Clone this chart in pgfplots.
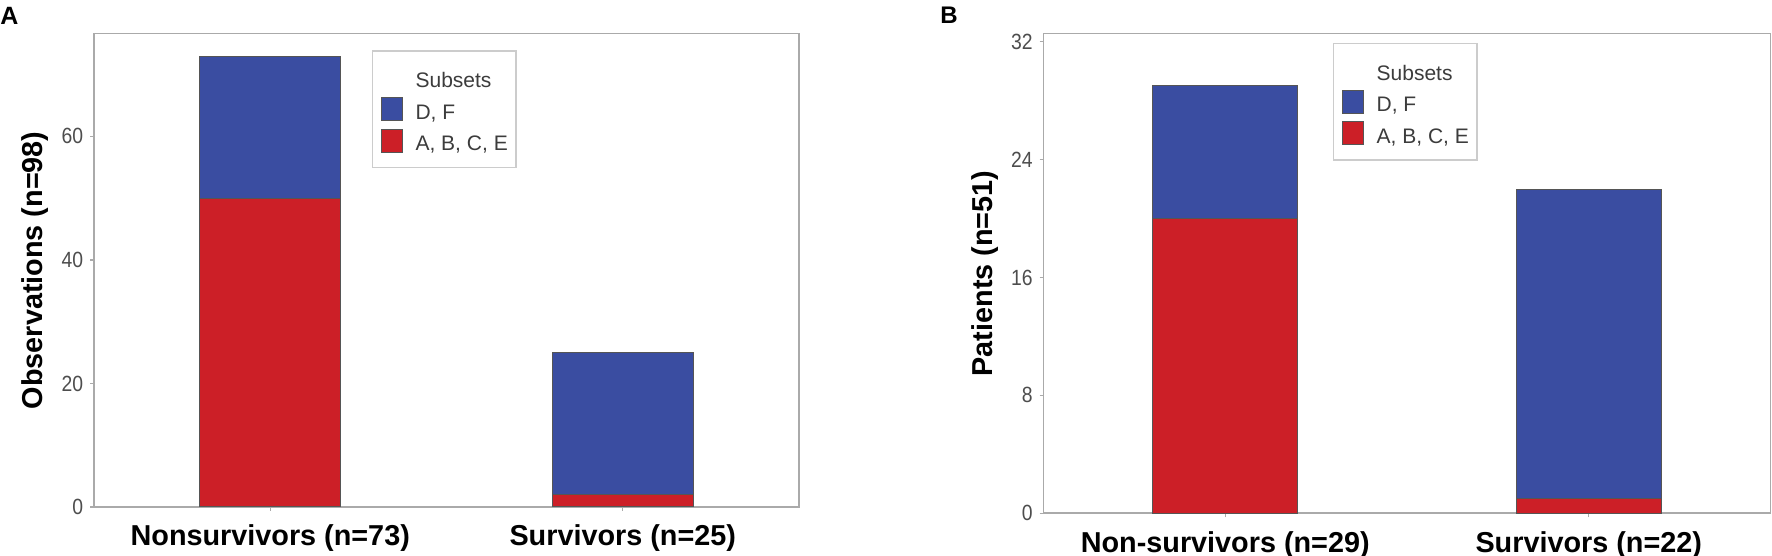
\documentclass[border=0pt]{standalone}
\usepackage{fontspec}
\setmainfont{Liberation Sans}
\newfontfamily\narrowfont[FakeStretch=0.88]{Liberation Sans}
\usepackage{pgfplots}
\pgfplotsset{compat=1.18}
\definecolor{barblue}{RGB}{58,77,161}
\definecolor{barred}{RGB}{204,31,39}
\definecolor{framegray}{RGB}{170,170,170}
\definecolor{leggray}{RGB}{204,204,204}
\definecolor{ticktext}{RGB}{77,77,77}
\definecolor{legtext}{RGB}{60,60,60}
\definecolor{bardraw}{RGB}{85,85,85}
\newcommand\keyimg[1]{\addlegendimage{legend image code/.code={\draw[fill=#1, draw=bardraw, line width=0.5pt] (0pt,-0.85pt) rectangle (10.5pt,10.65pt);}}}
\pgfplotsset{
  panel/.style={
    scale only axis,
    anchor=south west,
    xmin=-0.5, xmax=1.5, ymin=0,
    ybar stacked, bar width=0.4,
    xtick={0,1},
    tick pos=left, tick align=outside,
    major tick length=2pt,
    tick style={framegray, line width=0.6pt},
    axis line style={framegray, line width=0.8pt},
    /pgf/number format/assume math mode=true,
    yticklabel style={font=\narrowfont\fontsize{11}{13}\selectfont, text=ticktext, inner xsep=1.25pt, anchor=east, xshift=-2pt},
    xticklabel style={font=\fontsize{14.4}{17}\selectfont\bfseries, text=black, anchor=base, yshift=-17.5pt},
    ylabel style={font=\fontsize{14.4}{17}\selectfont\bfseries, anchor=center},
    legend cell align=left,
    legend style={draw=leggray, line width=0.8pt, anchor=north west,
      inner xsep=4pt, inner ysep=3.75pt,
      font=\fontsize{10.5}{12}\selectfont, text=legtext,
      nodes={inner xsep=0pt, inner ysep=2.25pt, text height=8.5pt, text depth=2.5pt},
      /tikz/column sep=6.5pt, cells={anchor=base west}},
  },
}
\begin{document}
\begin{tikzpicture}
\useasboundingbox (0pt,0pt) rectangle (886pt,278pt);
\node[font=\fontsize{12.5}{14}\selectfont\bfseries, anchor=base west, inner sep=0pt] at (0pt,265.5pt) {A};
\node[font=\fontsize{12}{14}\selectfont\bfseries, anchor=base west, inner sep=0pt] at (470pt,266pt) {B};

\begin{axis}[panel,
  at={(47pt,24.5pt)}, width=352.5pt, height=236.75pt,
  ymax=76.65, ytick={0,20,40,60},
  xticklabels={Nonsurvivors (n=73), Survivors (n=25)},
  ylabel={Observations (n=98)},
  ylabel style={at={(axis description cs:-0.0837,0.5)}},
  legend style={at={(axis description cs:0.394,0.965)}},
]
\addlegendimage{empty legend}
\addlegendentry[text height=12.5pt]{Subsets}
\keyimg{barblue}
\addlegendentry{D, F}
\keyimg{barred}
\addlegendentry{A, B, C, E\hspace{5.5pt}}
\addplot[fill=barred, draw=bardraw, line width=0.5pt] coordinates {(0,50) (1,2)};
\addplot[fill=barblue, draw=bardraw, line width=0.5pt] coordinates {(0,23) (1,23)};
\end{axis}

\begin{axis}[panel,
  at={(521.75pt,21.35pt)}, width=363.5pt, height=239.9pt,
  ymax=32.55, ytick={0,8,16,24,32},
  xticklabels={Non-survivors (n=29), Survivors (n=22)},
  ylabel={Patients (n=51)},
  ylabel style={at={(axis description cs:-0.0805,0.5)}},
  legend style={at={(axis description cs:0.398,0.981)}},
]
\addlegendimage{empty legend}
\addlegendentry[text height=12.5pt]{Subsets}
\keyimg{barblue}
\addlegendentry{D, F}
\keyimg{barred}
\addlegendentry{A, B, C, E\hspace{5.5pt}}
\addplot[fill=barred, draw=bardraw, line width=0.5pt] coordinates {(0,20) (1,1)};
\addplot[fill=barblue, draw=bardraw, line width=0.5pt] coordinates {(0,9) (1,21)};
\end{axis}
\end{tikzpicture}
\end{document}
